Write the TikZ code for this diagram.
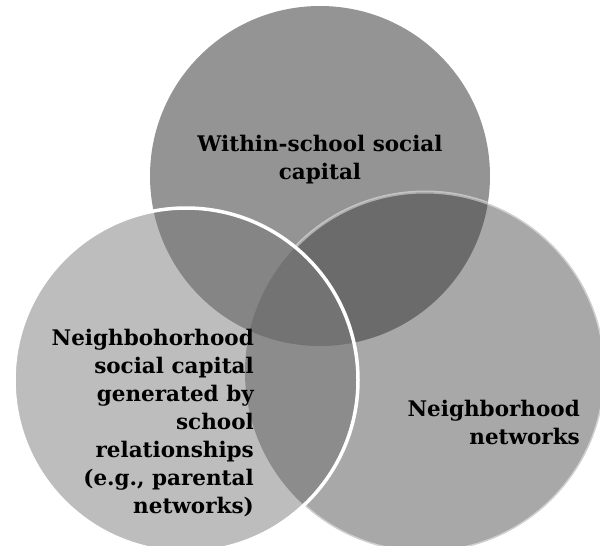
\documentclass[tikz,border=0pt]{standalone}
\usepackage{fontspec}
\setmainfont{DejaVu Serif}
\usepackage{tikz}

\begin{document}
\begin{tikzpicture}
[x=1pt,y=1pt,
lbl/.style={font=\fontsize{21.5}{28}\selectfont\bfseries,text=black,inner sep=0pt},
rim/.style={draw=white,line width=3.5pt},
]
\useasboundingbox (0,0) rectangle (600,-546);

\coordinate (S) at (320,-176);
\coordinate (L) at (186,-380);
\coordinate (R) at (425,-372);

\fill[black!42] (S) circle[radius=170];
\fill[black!34] (R) circle[radius=180];
\begin{scope}
\clip (S) circle[radius=170];
\fill[black!58] (R) circle[radius=180];
\end{scope}
\draw[rim,draw opacity=0.45,line width=3pt] (R) circle[radius=180];

\fill[black!26] (L) circle[radius=172];
\begin{scope}
\clip (L) circle[radius=172];
\fill[black!48] (S) circle[radius=170];
\fill[black!45] (R) circle[radius=180];
\clip (S) circle[radius=170];
\fill[black!55] (R) circle[radius=180];
\end{scope}
\draw[rim] (L) circle[radius=172];

\node [lbl,align=center] (school) at (320,-160) {Within-school social\\capital};
\node [lbl,align=right,anchor=east] (gen) at (254,-423) {Neighbohorhood\\social capital\\generated by\\school\\relationships\\(e.g., parental\\networks)};
\node [lbl,align=right,anchor=east] (nbhd) at (580,-422) {Neighborhood\\networks};
\end{tikzpicture}
\end{document}
